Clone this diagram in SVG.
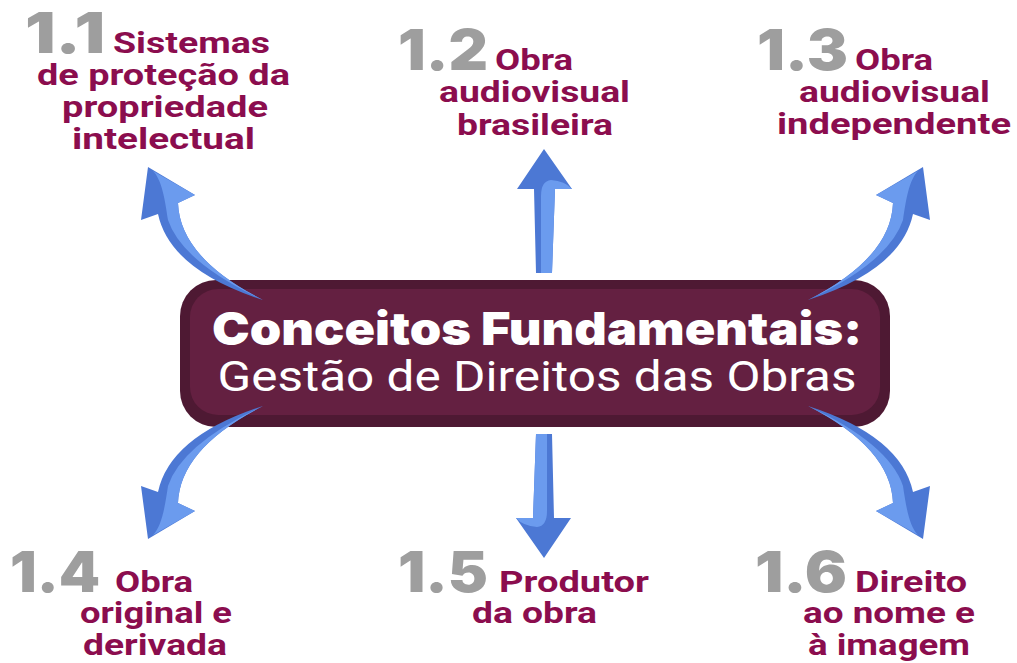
<svg xmlns="http://www.w3.org/2000/svg" width="1017" height="663" viewBox="0 0 1017 663">
<style>
.num{font-family:Inter,"Liberation Sans",sans-serif;font-weight:900;font-size:56px;fill:#9E9E9E}
.lbl{font-family:Roboto,"Liberation Sans",sans-serif;font-weight:700;font-size:29px;fill:#8B0D4E}
.t1{font-family:Inter,"Liberation Sans",sans-serif;font-weight:900;font-size:45px;fill:#FFFFFF}
.t2{font-family:Roboto,"Liberation Sans",sans-serif;font-weight:400;font-size:43px;fill:#FFFFFF}
.dk{fill:#4C78D4}
.lt{fill:#6B9BEE}
</style>
<defs>
<g id="curved">
<path class="dk" d="M148,167 L141,220 L158,214 Q170,270 263,300 Q180,258 178,203 L195,195 Z"/>
<path class="lt" d="M153,171 C162,180 165,200 168,220 Q182,262 263,300 Q180,258 178,203 L195,195 Z"/>
</g>
<g id="straight">
<path class="dk" d="M544,149 L517,189 L534,189 L536,273 L552,273 L555,189 L572,189 Z"/>
<path class="lt" d="M541,273 L541,196 Q541,181 551,180 Q565,181 572,189 L555,189 L552,273 Z"/>
</g>
</defs>
<g id="center">
<rect x="180" y="280" width="710" height="147" rx="36" fill="#4E1933"/>
<rect x="190" y="289" width="690" height="126" rx="28" fill="#642041"/>
<text class="t1" x="537" y="345" text-anchor="middle" textLength="650" lengthAdjust="spacingAndGlyphs">Conceitos Fundamentais:</text>
<text class="t2" x="537" y="391" text-anchor="middle" textLength="639" lengthAdjust="spacingAndGlyphs">Gestão de Direitos das Obras</text>
</g>
<g id="connectors">
<use href="#curved"/>
<use href="#straight"/>
<use href="#curved" transform="translate(1071,0) scale(-1,1)"/>
<use href="#curved" transform="translate(0,706) scale(1,-1)"/>
<use href="#straight" transform="rotate(180,544,353.5)"/>
<use href="#curved" transform="rotate(180,535.5,353)"/>
</g>
<g id="n11">
<text class="num" x="25" y="53" textLength="80" lengthAdjust="spacingAndGlyphs">1.1</text>
<text class="lbl" x="113" y="53" textLength="157" lengthAdjust="spacingAndGlyphs">Sistemas</text>
<text class="lbl" x="37" y="85" textLength="253" lengthAdjust="spacingAndGlyphs">de proteção da</text>
<text class="lbl" x="62" y="117" textLength="206" lengthAdjust="spacingAndGlyphs">propriedade</text>
<text class="lbl" x="72" y="149" textLength="183" lengthAdjust="spacingAndGlyphs">intelectual</text>
</g>
<g id="n12">
<text class="num" x="398" y="70" textLength="90" lengthAdjust="spacingAndGlyphs">1.2</text>
<text class="lbl" x="495" y="70" textLength="78" lengthAdjust="spacingAndGlyphs">Obra</text>
<text class="lbl" x="439" y="102" textLength="191" lengthAdjust="spacingAndGlyphs">audiovisual</text>
<text class="lbl" x="457" y="135" textLength="156" lengthAdjust="spacingAndGlyphs">brasileira</text>
</g>
<g id="n13">
<text class="num" x="757" y="70" textLength="91" lengthAdjust="spacingAndGlyphs">1.3</text>
<text class="lbl" x="855" y="70" textLength="78" lengthAdjust="spacingAndGlyphs">Obra</text>
<text class="lbl" x="799" y="102" textLength="191" lengthAdjust="spacingAndGlyphs">audiovisual</text>
<text class="lbl" x="777" y="134" textLength="234" lengthAdjust="spacingAndGlyphs">independente</text>
</g>
<g id="n14">
<text class="num" x="10" y="592" textLength="90" lengthAdjust="spacingAndGlyphs">1.4</text>
<text class="lbl" x="115" y="592" textLength="78" lengthAdjust="spacingAndGlyphs">Obra</text>
<text class="lbl" x="80" y="623" textLength="152" lengthAdjust="spacingAndGlyphs">original e</text>
<text class="lbl" x="83" y="655" textLength="144" lengthAdjust="spacingAndGlyphs">derivada</text>
</g>
<g id="n15">
<text class="num" x="398" y="592" textLength="90" lengthAdjust="spacingAndGlyphs">1.5</text>
<text class="lbl" x="499" y="592" textLength="150" lengthAdjust="spacingAndGlyphs">Produtor</text>
<text class="lbl" x="472" y="623" textLength="125" lengthAdjust="spacingAndGlyphs">da obra</text>
</g>
<g id="n16">
<text class="num" x="755" y="592" textLength="92" lengthAdjust="spacingAndGlyphs">1.6</text>
<text class="lbl" x="855" y="592" textLength="112" lengthAdjust="spacingAndGlyphs">Direito</text>
<text class="lbl" x="803" y="623" textLength="172" lengthAdjust="spacingAndGlyphs">ao nome e</text>
<text class="lbl" x="808" y="655" textLength="162" lengthAdjust="spacingAndGlyphs">à imagem</text>
</g>
</svg>
